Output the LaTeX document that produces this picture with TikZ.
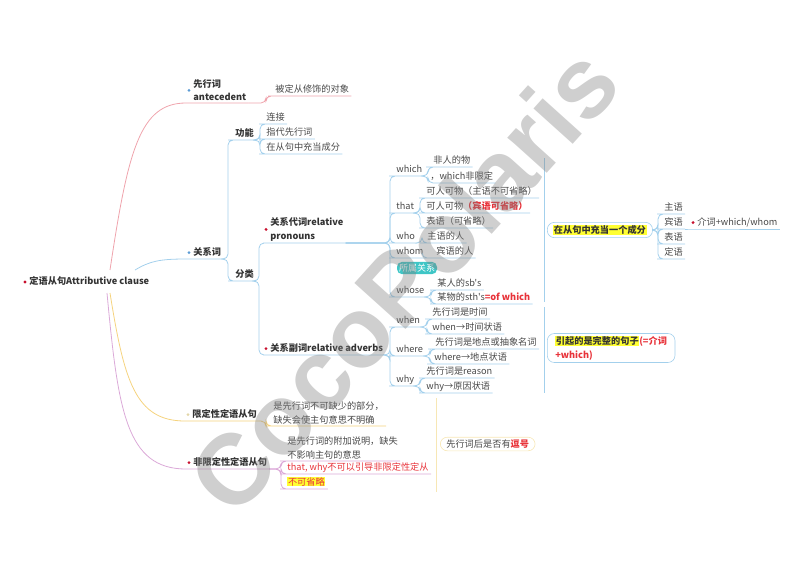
\documentclass[tikz,border=0pt]{standalone}
\usepackage{fontspec}
\setmainfont{Noto Sans CJK SC}[Ligatures=TeXOff]
\newfontfamily\wmfont{Liberation Sans}
\usepackage{tikz}
\usetikzlibrary{positioning}

\definecolor{blueline}{HTML}{A3D0EC}
\definecolor{redline}{HTML}{EFA3AC}
\definecolor{yelline}{HTML}{F5D37E}
\definecolor{purline}{HTML}{DBA9D8}
\definecolor{txtgray}{HTML}{484848}
\definecolor{headgray}{HTML}{333333}
\definecolor{dotred}{HTML}{C8102E}
\definecolor{dotblue}{HTML}{5B9BD5}
\definecolor{dotyel}{HTML}{E3D6A8}
\definecolor{redtext}{HTML}{E8333A}
\definecolor{tagteal}{HTML}{3EC6C6}
\definecolor{hlyellow}{HTML}{FFFF33}
\definecolor{boxyel}{HTML}{F7E7B5}

\newcommand{\hlite}[1]{{\setlength{\fboxsep}{0.6pt}\colorbox{hlyellow}{#1}}}
\newcommand{\linkto}[4][blueline]{\draw[#1] (#2.south east) -- (#2.south east -| #4) |- (#3.south west) -- (#3.south east);}

\tikzset{
	topic/.style={anchor=south west, inner xsep=2pt, inner ysep=1.5pt, text height=7pt, text depth=2pt, font=\fontsize{9.2}{13}\selectfont, text=txtgray},
	topic2/.style={anchor=south west, inner xsep=2pt, inner ysep=1.5pt, align=left, font=\fontsize{9.2}{13.5}\selectfont, text=txtgray},
	heavy/.style={font=\fontsize{9.2}{13.5}\selectfont\bfseries, text=headgray},
	rdot/.style={label={[circle, fill=dotred, inner sep=1.1pt]left:{}}},
	bdot/.style={label={[circle, fill=dotblue, inner sep=1.1pt]left:{}}},
	ydot/.style={label={[circle, fill=dotyel, inner sep=1.1pt]left:{}}},
	tag/.style={fill=tagteal, text=white, inner xsep=2pt, inner ysep=2pt, font=\fontsize{9}{10}\selectfont},
	pill/.style={anchor=west, draw=blueline, line width=0.6pt, rounded corners=7pt, inner xsep=6pt, inner ysep=2.5pt, align=left},
	wmark/.style={font=\wmfont\bfseries\fontsize{100}{100}\selectfont, text=gray, opacity=0.38, rotate=48},
	every path/.style={line width=0.8pt, rounded corners=5pt}
}

\begin{document}
\begin{tikzpicture}[x=1pt, y=-1pt]
	\useasboundingbox (0,0) rectangle (800,566);

	% root and main branches
	\node[heavy, rdot, anchor=west, inner xsep=2pt, text height=7pt, text depth=2pt] (root) at (27,282) {定语从句Attributive clause};
	\node[topic2, heavy, bdot] (ante) at (191,103) {先行词\\antecedent};
	\node[topic, heavy, bdot] (rel) at (191,259) {关系词};
	\node[topic, heavy, ydot] (lim) at (190,421) {限定性定语从句};
	\node[topic, heavy, rdot] (non) at (191,469) {非限定性定语从句};

	\node[topic] (ante1) at (273,96) {被定从修饰的对象};
	\node[topic, heavy] (fn) at (233,140) {功能};
	\node[topic] (fn1) at (264,124) {连接};
	\node[topic] (fn2) at (264,139) {指代先行词};
	\node[topic] (fn3) at (264,154) {在从句中充当成分};
	\node[topic, heavy] (cls) at (233,281) {分类};
	\node[topic2, heavy, rdot] (pron) at (268,243) {关系代词relative\\pronouns};
	\node[topic, heavy, rdot] (adv) at (268,355) {关系副词relative adverbs};

	% pronouns
	\node[topic] (which) at (394,176) {which};
	\node[topic] (which1) at (431,167) {非人的物};
	\node[topic] (which2) at (428,183) {，which非限定};
	\node[topic] (that) at (394,213) {that};
	\node[topic] (that1) at (424,198) {可人可物（主语不可省略）};
	\node[topic] (that2) at (424,213) {可人可物\textcolor{redtext}{\textbf{（宾语可省略）}}};
	\node[topic] (that3) at (424,228) {表语（可省略）};
	\node[topic] (who) at (394,243) {who};
	\node[topic] (who1) at (425,243) {主语的人};
	\node[topic] (whom) at (394,258) {whom};
	\node[topic] (whom1) at (434,258) {宾语的人};
	\node[tag] (own) at (417,268) {所属关系};
	\node[topic] (whose) at (394,297) {whose};
	\node[topic] (whose1) at (435,290) {某人的sb's};
	\node[topic] (whose2) at (435,304) {某物的sth's\textcolor{redtext}{\textbf{=of which}}};

	% adverbs
	\node[topic] (when) at (394,327) {when};
	\node[topic] (when1) at (430,319) {先行词是时间};
	\node[topic] (when2) at (430,334) {when→时间状语};
	\node[topic] (where) at (394,356) {where};
	\node[topic] (where1) at (433,349) {先行词是地点或抽象名词};
	\node[topic] (where2) at (432,364) {where→地点状语};
	\node[topic] (why) at (394,386) {why};
	\node[topic] (why1) at (424,378) {先行词是reason};
	\node[topic] (why2) at (424,393) {why→原因状语};

	% summaries
	\node[pill, heavy] (sum1) at (547,230) {\hlite{在从句中充当一个成分}};
	\node[topic] (subj) at (662,214) {主语};
	\node[topic] (obj) at (662,229) {宾语};
	\node[topic] (pred) at (662,244) {表语};
	\node[topic] (attr) at (662,259) {定语};
	\node[topic, rdot] (prep) at (695,229) {介词+which/whom};
	\node[pill, heavy, inner xsep=8pt] (sum2) at (547,348) {\hlite{引起的是完整的句子}\textcolor{redtext}{(=介词}\\\textcolor{redtext}{+which)}};
	\node[pill, draw=boxyel, font=\fontsize{9.2}{13}\selectfont, text=txtgray] (sum3) at (440,444) {先行词后是否有\textcolor{redtext}{\textbf{逗号}}};

	% clause kinds
	\node[topic2] (lim1) at (271,426) {是先行词不可缺少的部分，\\缺失会使主句意思不明确};
	\node[topic2] (non1) at (285,461) {是先行词的附加说明，缺失\\不影响主句的意思};
	\node[topic, text=redtext] (non2) at (285,474) {that, why不可以引导非限定性定从};
	\node[topic] (non3) at (285,489) {\hlite{\textcolor{redtext}{不可省略}}};

	% trunks
	\coordinate (t-ante) at (266,0);
	\coordinate (t-rel) at (228,0);
	\coordinate (t-fn) at (260,0);
	\coordinate (t-cls) at (259,0);
	\coordinate (t-pron) at (390,0);
	\coordinate (t-adv) at (390,0);
	\coordinate (t-which) at (428,0);
	\coordinate (t-that) at (420,0);
	\coordinate (t-who) at (422,0);
	\coordinate (t-whose) at (431,0);
	\coordinate (t-when) at (427,0);
	\coordinate (t-where) at (430,0);
	\coordinate (t-why) at (420,0);
	\coordinate (t-sum) at (658,0);
	\coordinate (t-lim) at (266,0);
	\coordinate (t-non) at (281,0);

	% from the root
	\coordinate (hubR) at (110,270);
	\coordinate (hubB) at (135,270);
	\coordinate (hubY) at (110,293);
	\coordinate (hubP) at (107,293);
	\draw[redline] (hubR) .. controls (128,150) and (140,103) .. (ante.south west) -- (ante.south east);
	\draw[blueline] (hubB) .. controls (150,261) and (160,259) .. (rel.south west) -- (rel.south east);
	\draw[yelline] (hubY) .. controls (124,380) and (135,421) .. (lim.south west) -- (lim.south east);
	\draw[purline] (hubP) .. controls (118,410) and (126,469) .. (non.south west) -- (non.south east);

	\linkto[redline]{ante}{ante1}{t-ante}
	\linkto{rel}{fn}{t-rel}
	\linkto{rel}{cls}{t-rel}
	\linkto{fn}{fn1}{t-fn}
	\linkto{fn}{fn2}{t-fn}
	\linkto{fn}{fn3}{t-fn}
	\linkto{cls}{pron}{t-cls}
	\linkto{cls}{adv}{t-cls}

	\linkto{pron}{which}{t-pron}
	\linkto{pron}{that}{t-pron}
	\linkto{pron}{who}{t-pron}
	\linkto{pron}{whom}{t-pron}
	\linkto{pron}{whose}{t-pron}
	\linkto{which}{which1}{t-which}
	\linkto{which}{which2}{t-which}
	\linkto{that}{that1}{t-that}
	\linkto{that}{that2}{t-that}
	\linkto{that}{that3}{t-that}
	\linkto{who}{who1}{t-who}
	\linkto{whom}{whom1}{t-who}
	\linkto{whose}{whose1}{t-whose}
	\linkto{whose}{whose2}{t-whose}

	\linkto{adv}{when}{t-adv}
	\linkto{adv}{where}{t-adv}
	\linkto{adv}{why}{t-adv}
	\linkto{when}{when1}{t-when}
	\linkto{when}{when2}{t-when}
	\linkto{where}{where1}{t-where}
	\linkto{where}{where2}{t-where}
	\linkto{why}{why1}{t-why}
	\linkto{why}{why2}{t-why}

	% summary brackets
	\coordinate (s1a) at (544,158);
	\coordinate (s1b) at (544,302);
	\coordinate (s2a) at (544,307);
	\coordinate (s2b) at (544,393);
	\coordinate (s3a) at (436,398);
	\coordinate (s3b) at (436,492);
	\draw[blueline, line width=0.6pt] (s1a) -- (s1b);
	\draw[blueline, line width=0.6pt] (s2a) -- (s2b);
	\draw[boxyel, line width=0.6pt] (s3a) -- (s3b);

	\draw[blueline] (sum1.east) -- (sum1.east -| t-sum) |- (subj.south west) -- (subj.south east);
	\draw[blueline] (sum1.east) -- (sum1.east -| t-sum) |- (obj.south west) -- (obj.south east);
	\draw[blueline] (sum1.east) -- (sum1.east -| t-sum) |- (pred.south west) -- (pred.south east);
	\draw[blueline] (sum1.east) -- (sum1.east -| t-sum) |- (attr.south west) -- (attr.south east);
	\draw[blueline] (obj.south east) -- (prep.south west) -- (prep.south east);

	\linkto[yelline]{lim}{lim1}{t-lim}
	\linkto[purline]{non}{non1}{t-non}
	\linkto[purline]{non}{non2}{t-non}
	\linkto[purline]{non}{non3}{t-non}

	% watermark
	\node[wmark] (wm) at (403,280) {CocoPolaris};
\end{tikzpicture}
\end{document}
